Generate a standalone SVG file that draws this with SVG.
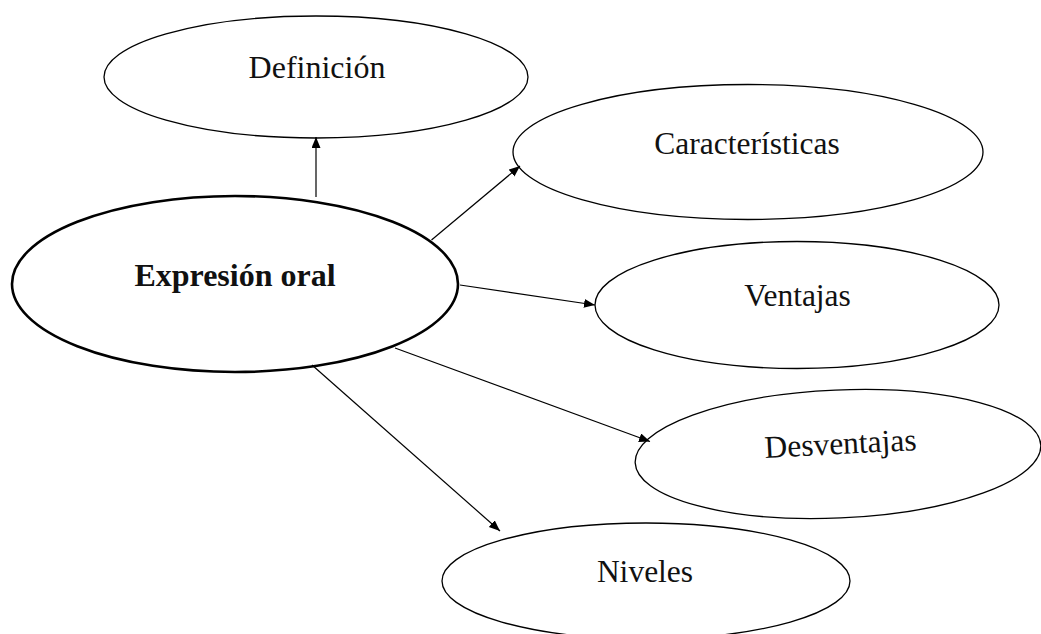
<svg xmlns="http://www.w3.org/2000/svg" width="1041" height="634" viewBox="0 0 1041 634">
<style>
.node ellipse{fill:#fff;stroke:#000;stroke-width:1.3}
.node.main ellipse{stroke-width:2.6}
.node text{font-family:"Liberation Serif","Times New Roman",serif;font-size:31.5px;fill:#111;text-anchor:middle}
.node.main text{font-weight:bold;font-size:32px}
#connectors line{stroke:#000;stroke-width:1.2;marker-end:url(#arrow)}
</style>
<defs>
<marker id="arrow" markerUnits="userSpaceOnUse" markerWidth="12" markerHeight="10" refX="11" refY="4.5" orient="auto">
<path d="M0,0 L11,4.5 L0,9 z" fill="#000"/>
</marker>
</defs>
<rect width="1041" height="634" fill="#fff"/>
<g id="node-definicion" class="node">
<ellipse cx="316" cy="77" rx="212" ry="61"/>
<text x="317" y="78" style="font-size:32px">Definición</text>
</g>
<g id="node-caracteristicas" class="node">
<ellipse cx="748" cy="152" rx="235" ry="67.5"/>
<text x="747" y="153.5">Características</text>
</g>
<g id="node-ventajas" class="node">
<ellipse cx="797" cy="305" rx="202" ry="63.5"/>
<text x="797.5" y="306">Ventajas</text>
</g>
<g id="node-desventajas" class="node">
<ellipse cx="838" cy="454" rx="203" ry="64" transform="rotate(-2.5 838 454)"/>
<text x="841" y="454" transform="rotate(-3 841 454)">Desventajas</text>
</g>
<g id="node-niveles" class="node">
<ellipse cx="646" cy="581" rx="204" ry="58"/>
<text x="645" y="582">Niveles</text>
</g>
<g id="node-expresion" class="node main">
<ellipse cx="235" cy="284" rx="223" ry="88"/>
<text x="235" y="286">Expresión oral</text>
</g>
<g id="connectors">
<line x1="316" y1="197" x2="316" y2="137"/>
<line x1="431.5" y1="240" x2="520" y2="166"/>
<line x1="460" y1="285" x2="595" y2="305"/>
<line x1="395" y1="348" x2="650" y2="441.5"/>
<line x1="312" y1="365" x2="500" y2="531"/>
</g>
</svg>
